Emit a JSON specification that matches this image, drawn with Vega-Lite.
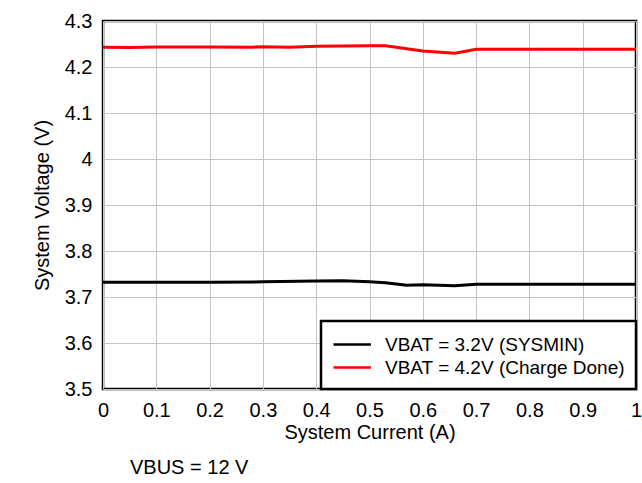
{
  "$schema": "https://vega.github.io/schema/vega-lite/v6.json",
  "width": 533,
  "height": 368,
  "autosize": {"type": "none"},
  "padding": {"left": 103, "top": 21, "right": 6, "bottom": 94},
  "background": "white",
  "title": {
    "text": "VBUS = 12 V",
    "orient": "bottom",
    "anchor": "start",
    "frame": "group",
    "dx": 27,
    "offset": 16,
    "fontSize": 20,
    "fontWeight": "normal",
    "font": "Liberation Sans",
    "color": "#000000"
  },
  "config": {
    "font": "Liberation Sans",
    "view": {"stroke": "#000000", "strokeWidth": 2.5},
    "axis": {
      "domain": false,
      "ticks": false,
      "grid": true,
      "gridColor": "#c4c4c4",
      "gridWidth": 1,
      "labelFontSize": 20,
      "labelColor": "#000000",
      "titleFontSize": 20,
      "titleFontWeight": "normal",
      "titleColor": "#000000",
      "labelFont": "Liberation Sans",
      "titleFont": "Liberation Sans"
    },
    "legend": {
      "labelFontSize": 19,
      "labelFont": "Liberation Sans",
      "labelColor": "#000000",
      "labelLimit": 400
    }
  },
  "data": {
    "values": [
      {"current": 0.0, "voltage": 3.732, "series": "VBAT = 3.2V (SYSMIN)"},
      {"current": 0.05, "voltage": 3.732, "series": "VBAT = 3.2V (SYSMIN)"},
      {"current": 0.1, "voltage": 3.732, "series": "VBAT = 3.2V (SYSMIN)"},
      {"current": 0.2, "voltage": 3.732, "series": "VBAT = 3.2V (SYSMIN)"},
      {"current": 0.3, "voltage": 3.733, "series": "VBAT = 3.2V (SYSMIN)"},
      {"current": 0.4, "voltage": 3.735, "series": "VBAT = 3.2V (SYSMIN)"},
      {"current": 0.45, "voltage": 3.7355, "series": "VBAT = 3.2V (SYSMIN)"},
      {"current": 0.5, "voltage": 3.733, "series": "VBAT = 3.2V (SYSMIN)"},
      {"current": 0.53, "voltage": 3.731, "series": "VBAT = 3.2V (SYSMIN)"},
      {"current": 0.57, "voltage": 3.7254, "series": "VBAT = 3.2V (SYSMIN)"},
      {"current": 0.6, "voltage": 3.7268, "series": "VBAT = 3.2V (SYSMIN)"},
      {"current": 0.66, "voltage": 3.7246, "series": "VBAT = 3.2V (SYSMIN)"},
      {"current": 0.7, "voltage": 3.7276, "series": "VBAT = 3.2V (SYSMIN)"},
      {"current": 0.8, "voltage": 3.7276, "series": "VBAT = 3.2V (SYSMIN)"},
      {"current": 0.9, "voltage": 3.7276, "series": "VBAT = 3.2V (SYSMIN)"},
      {"current": 1.0, "voltage": 3.7276, "series": "VBAT = 3.2V (SYSMIN)"},
      {"current": 0.0, "voltage": 4.2428, "series": "VBAT = 4.2V (Charge Done)"},
      {"current": 0.05, "voltage": 4.2425, "series": "VBAT = 4.2V (Charge Done)"},
      {"current": 0.1, "voltage": 4.2435, "series": "VBAT = 4.2V (Charge Done)"},
      {"current": 0.2, "voltage": 4.2435, "series": "VBAT = 4.2V (Charge Done)"},
      {"current": 0.28, "voltage": 4.2432, "series": "VBAT = 4.2V (Charge Done)"},
      {"current": 0.3, "voltage": 4.2442, "series": "VBAT = 4.2V (Charge Done)"},
      {"current": 0.35, "voltage": 4.2428, "series": "VBAT = 4.2V (Charge Done)"},
      {"current": 0.4, "voltage": 4.2449, "series": "VBAT = 4.2V (Charge Done)"},
      {"current": 0.5, "voltage": 4.2464, "series": "VBAT = 4.2V (Charge Done)"},
      {"current": 0.53, "voltage": 4.246, "series": "VBAT = 4.2V (Charge Done)"},
      {"current": 0.6, "voltage": 4.235, "series": "VBAT = 4.2V (Charge Done)"},
      {"current": 0.66, "voltage": 4.2297, "series": "VBAT = 4.2V (Charge Done)"},
      {"current": 0.7, "voltage": 4.2384, "series": "VBAT = 4.2V (Charge Done)"},
      {"current": 0.8, "voltage": 4.2384, "series": "VBAT = 4.2V (Charge Done)"},
      {"current": 0.9, "voltage": 4.2384, "series": "VBAT = 4.2V (Charge Done)"},
      {"current": 1.0, "voltage": 4.2384, "series": "VBAT = 4.2V (Charge Done)"}
    ]
  },
  "mark": {"type": "line", "strokeWidth": 3},
  "encoding": {
    "x": {
      "field": "current",
      "type": "quantitative",
      "scale": {"domain": [0, 1], "nice": false, "zero": false},
      "axis": {
        "title": "System Current (A)",
        "values": [0, 0.1, 0.2, 0.3, 0.4, 0.5, 0.6, 0.7, 0.8, 0.9, 1],
        "format": ".1~f",
        "labelPadding": 11,
        "titlePadding": 2,
        "labelFlush": false
      }
    },
    "y": {
      "field": "voltage",
      "type": "quantitative",
      "scale": {"domain": [3.5, 4.3], "nice": false, "zero": false},
      "axis": {
        "title": "System Voltage (V)",
        "values": [3.5, 3.6, 3.7, 3.8, 3.9, 4.0, 4.1, 4.2, 4.3],
        "format": ".1~f",
        "labelPadding": 11,
        "titlePadding": 12
      }
    },
    "color": {
      "field": "series",
      "type": "nominal",
      "scale": {
        "domain": ["VBAT = 3.2V (SYSMIN)", "VBAT = 4.2V (Charge Done)"],
        "range": ["#000000", "#ff0000"]
      },
      "legend": {
        "title": null,
        "orient": "bottom-right",
        "offset": 0,
        "symbolType": "M-1,0H2.4",
        "symbolSize": 484,
        "symbolStrokeWidth": 2.5,
        "strokeColor": "#000000",
        "fillColor": "#ffffff",
        "padding": 11,
        "labelOffset": 28,
        "rowPadding": 0,
        "encode": {"legend": {"update": {"strokeWidth": {"value": 2.5}}}}
      }
    }
  }
}
